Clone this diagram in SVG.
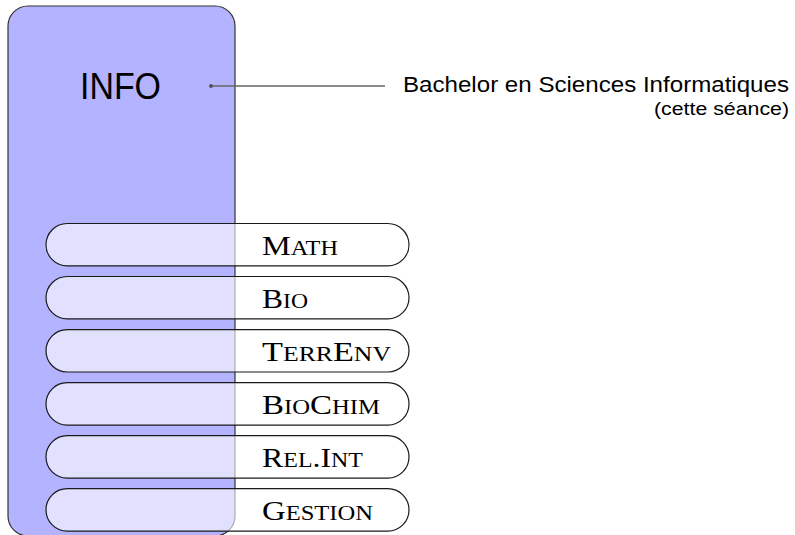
<svg xmlns="http://www.w3.org/2000/svg" width="795" height="535" viewBox="0 0 795 535">
  <style>
    .block { fill: #b3b3ff; stroke: #333; stroke-width: 1.2; }
    .pill { fill: #ffffff; fill-opacity: 0.6; stroke: #1a1a1a; stroke-width: 1.2; }
    .sc { font-family: "Liberation Serif", "Times New Roman", serif; font-size: 28px; fill: #000; }
    .sc .s { font-size: 21px; }
    .sans { font-family: "Liberation Sans", Arial, sans-serif; fill: #000; }
    .lead { stroke: #666; stroke-width: 1.3; fill: none; }
  </style>

  <!-- main programme block -->
  <g id="info">
    <rect class="block" x="8" y="6" width="227" height="530" rx="20" ry="20"/>
    <text class="sans" x="80" y="99" font-size="37" textLength="81" lengthAdjust="spacingAndGlyphs">INFO</text>
  </g>

  <!-- leader line to the description -->
  <g id="connectors">
    <line class="lead" x1="211" y1="86" x2="385" y2="86"/>
    <circle cx="211" cy="86" r="2" fill="#555"/>
  </g>

  <g id="description">
    <text class="sans" x="789" y="92" font-size="22" text-anchor="end" textLength="386" lengthAdjust="spacingAndGlyphs">Bachelor en Sciences Informatiques</text>
    <text class="sans" x="789" y="115" font-size="18" text-anchor="end" textLength="135" lengthAdjust="spacingAndGlyphs">(cette séance)</text>
  </g>

  <!-- minor tracks -->
  <g id="math">
    <rect class="pill" x="46" y="223.5" width="363" height="42.4" rx="21.2" ry="21.2"/>
    <text class="sc" x="262" y="255" textLength="76" lengthAdjust="spacingAndGlyphs">M<tspan class="s">ATH</tspan></text>
  </g>
  <g id="bio">
    <rect class="pill" x="46" y="276.5" width="363" height="42.4" rx="21.2" ry="21.2"/>
    <text class="sc" x="262" y="308" textLength="46" lengthAdjust="spacingAndGlyphs">B<tspan class="s">IO</tspan></text>
  </g>
  <g id="terrenv">
    <rect class="pill" x="46" y="329.6" width="363" height="42.4" rx="21.2" ry="21.2"/>
    <text class="sc" x="262" y="361.1" textLength="129" lengthAdjust="spacingAndGlyphs">T<tspan class="s">ERR</tspan>E<tspan class="s">NV</tspan></text>
  </g>
  <g id="biochim">
    <rect class="pill" x="46" y="382.7" width="363" height="42.4" rx="21.2" ry="21.2"/>
    <text class="sc" x="262" y="414.2" textLength="118" lengthAdjust="spacingAndGlyphs">B<tspan class="s">IO</tspan>C<tspan class="s">HIM</tspan></text>
  </g>
  <g id="relint">
    <rect class="pill" x="46" y="435.7" width="363" height="42.4" rx="21.2" ry="21.2"/>
    <text class="sc" x="262" y="467.2" textLength="101" lengthAdjust="spacingAndGlyphs">R<tspan class="s">EL</tspan>.I<tspan class="s">NT</tspan></text>
  </g>
  <g id="gestion">
    <rect class="pill" x="46" y="488.7" width="363" height="42.4" rx="21.2" ry="21.2"/>
    <text class="sc" x="262" y="520.2" textLength="111" lengthAdjust="spacingAndGlyphs">G<tspan class="s">ESTION</tspan></text>
  </g>
</svg>
